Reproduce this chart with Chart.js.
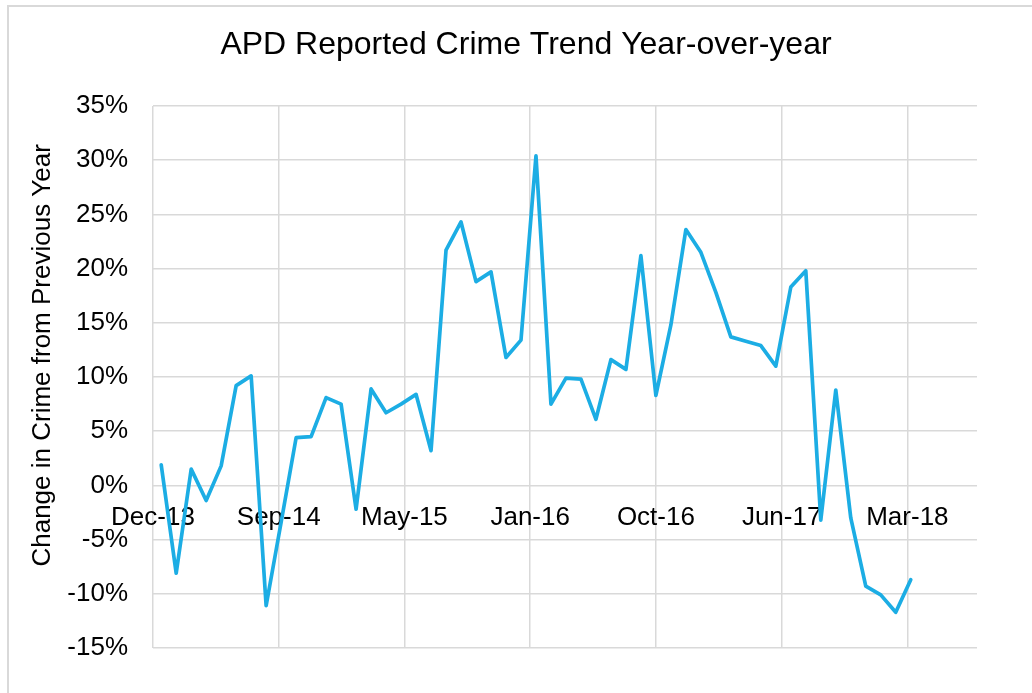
<!DOCTYPE html>
<html>
<head>
<meta charset="utf-8">
<title>APD Reported Crime Trend Year-over-year</title>
<script src="https://cdn.jsdelivr.net/npm/chart.js@4.4.1/dist/chart.umd.min.js"></script>
<style>
  html, body { margin: 0; padding: 0; background: #fff; overflow: hidden; }
  .frame { position: absolute; left: 7px; top: 5px; width: 1040px; height: 700px; border: 2px solid #d9d9d9; }
  .wrap { position: absolute; left: 0; top: 0; width: 1032px; height: 693px; }
</style>
</head>
<body>
<div class="frame"></div>
<div class="wrap"><canvas id="crimeChart" width="1032" height="693"></canvas></div>
<script>
// monthly year-over-year change, Dec 2013 to Feb 2018
const months = [
  'Dec-13', 'Jan-14', 'Feb-14', 'Mar-14', 'Apr-14', 'May-14', 'Jun-14', 'Jul-14', 'Aug-14', 'Sep-14', 'Oct-14', 'Nov-14',
  'Dec-14', 'Jan-15', 'Feb-15', 'Mar-15', 'Apr-15', 'May-15', 'Jun-15', 'Jul-15', 'Aug-15', 'Sep-15', 'Oct-15', 'Nov-15',
  'Dec-15', 'Jan-16', 'Feb-16', 'Mar-16', 'Apr-16', 'May-16', 'Jun-16', 'Jul-16', 'Aug-16', 'Sep-16', 'Oct-16', 'Nov-16',
  'Dec-16', 'Jan-17', 'Feb-17', 'Mar-17', 'Apr-17', 'May-17', 'Jun-17', 'Jul-17', 'Aug-17', 'Sep-17', 'Oct-17', 'Nov-17',
  'Dec-17', 'Jan-18', 'Feb-18'
];
const crimeChange = [
  1.9, -8.1, 1.5, -1.4, 1.8, 9.2, 10.1, -11.1, -3.4, 4.4, 4.5, 8.1,
  7.5, -2.2, 8.9, 6.7, 7.5, 8.4, 3.2, 21.7, 24.3, 18.8, 19.7, 11.8,
  13.4, 30.4, 7.5, 9.9, 9.8, 6.1, 11.6, 10.7, 21.2, 8.3, 14.8, 23.6,
  21.5, 17.8, 13.7, 13.3, 12.9, 11.0, 18.3, 19.8, -3.2, 8.8, -3.0, -9.3,
  -10.1, -11.7, -8.7
];
const tickLabels = ['Dec-13', 'Sep-14', 'May-15', 'Jan-16', 'Oct-16', 'Jun-17', 'Mar-18'];
const yTicks = { min: -15, max: 35, step: 5 };

// date axis: label every ~8.4 months, measured in months from Dec-13
const axisStart = -0.547;
const axisEnd = 54.42;
const tickStep = 8.387;

const FONT = "'Liberation Sans', Arial, sans-serif";
const gridColor = '#d9d9d9';

const ctx = document.getElementById('crimeChart').getContext('2d');
const chart = new Chart(ctx, {
  type: 'line',
  data: {
    datasets: [{
      label: 'Change in Crime',
      data: crimeChange.map((v, i) => ({ x: i, y: v, month: months[i] })),
      borderColor: '#1CADE4',
      borderWidth: 3.7,
      borderJoinStyle: 'round',
      borderCapStyle: 'round',
      pointRadius: 0,
      tension: 0,
      fill: false
    }]
  },
  options: {
    responsive: false,
    animation: false,
    layout: { padding: { left: 20, right: 0, top: 0, bottom: 45 } },
    plugins: {
      legend: { display: false },
      tooltip: { enabled: false },
      title: {
        display: true,
        text: 'APD Reported Crime Trend Year-over-year',
        color: '#000',
        font: { family: FONT, size: 32, weight: 'normal' },
        padding: { top: 26, bottom: 41.6 }
      }
    },
    scales: {
      x: {
        type: 'linear',
        position: { y: 0 },
        min: axisStart,
        max: axisEnd,
        afterBuildTicks: (scale) => {
          scale.ticks = tickLabels.map((t, i) => ({ value: axisStart + i * tickStep }));
        },
        afterFit: (scale) => {
          scale.height = 0;
          scale.paddingRight = 55;
        },
        grid: { color: gridColor, lineWidth: 1.5, drawTicks: false },
        border: { display: false },
        ticks: {
          autoSkip: false,
          maxRotation: 0,
          padding: 17,
          color: '#000',
          font: { family: FONT, size: 26 },
          callback: (value, index) => tickLabels[index]
        }
      },
      y: {
        min: yTicks.min,
        max: yTicks.max,
        afterFit: (scale) => { scale.width = 133; },
        grid: { color: gridColor, lineWidth: 1.5, drawTicks: false },
        border: { display: false },
        ticks: {
          stepSize: yTicks.step,
          padding: 25,
          color: '#000',
          font: { family: FONT, size: 26 },
          callback: (v) => v + '%'
        },
        title: {
          display: true,
          // leading spaces lift the rotated title a little, as in the original
          text: '      Change in Crime from Previous Year',
          color: '#000',
          font: { family: FONT, size: 26 },
          padding: { top: 7, bottom: 0 }
        }
      }
    }
  }
});
</script>
</body>
</html>
